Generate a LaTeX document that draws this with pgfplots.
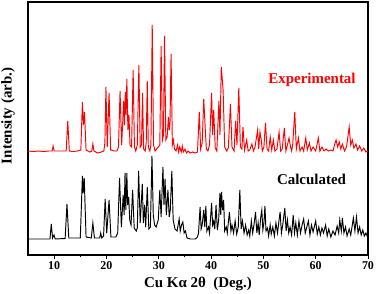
\documentclass[border=0pt]{standalone}
\usepackage{fontspec}
\setmainfont{Liberation Serif}
\usepackage{pgfplots}
\pgfplotsset{compat=1.18}
\begin{document}
\begin{tikzpicture}
\begin{axis}[
  scale only axis, width=340bp, height=253bp,
  xmin=5, xmax=70, ymin=0, ymax=253,
  axis line style={line width=1.1bp},
  xtick={10,20,...,70}, minor xtick={15,25,...,65},
  ytick=\empty,
  tick align=outside, xtick pos=bottom,
  major tick length=3.5bp, minor tick length=2bp,
  tick style={line width=0.9bp, black},
  ticklabel style={font=\fontsize{12}{12}\selectfont\bfseries},
  xticklabel style={yshift=-2bp, inner ysep=1bp},
  /pgf/number format/assume math mode=true,
  xlabel={Cu Kα 2θ\ \ (Deg.)},
  ylabel={Intensity (arb.)},
  label style={font=\fontsize{15}{15}\selectfont\bfseries},
  xlabel style={at={(axis description cs:0.5,-0.113)}, anchor=center, inner ysep=1bp},
  ylabel style={at={(axis description cs:-0.059,0.55)}, anchor=center},
  clip=false,
]
\addplot[red, line width=0.95bp, no markers] coordinates {
(5.0,104) (6,103.5) (7,104) (8,103.5) (9,104) (9.6,104) (9.8,109) (10.0,104) (11,104) (12.3,104) (12.6,134) (12.9,104) (13.5,103.5) (14.5,104) (15.1,105) (15.4,153) (15.6,130) (15.8,143) (16.1,105) (16.8,103) (17.2,104) (17.4,111) (17.6,104) (18.3,102) (19,103) (19.5,104) (19.7,112) (19.9,168) (20.15,108) (20.5,162) (20.8,105) (21.5,104) (22.0,104) (22.3,108) (22.6,164) (22.9,110) (23.3,154) (23.45,130) (23.6,163) (23.75,140) (23.9,176) (24.1,125) (24.3,140) (24.5,110) (24.8,108) (25.1,185) (25.35,108) (25.6,104) (25.9,110) (26.2,190) (26.45,108) (26.7,110) (26.9,162) (27.1,106) (27.4,104) (27.6,112) (27.8,174) (28.0,108) (28.3,104) (28.5,110) (28.75,230) (29.0,110) (29.3,104) (29.6,106) (29.9,108) (30.2,110) (30.45,209) (30.7,115) (30.9,120) (31.1,219) (31.35,115) (31.6,118) (31.85,138) (32.0,125) (32.15,132) (32.35,201) (32.6,110) (32.8,115) (33.0,106) (33.3,104) (33.6,110) (33.8,103) (34.0,108) (34.3,103) (34.5,109) (34.7,103) (35.0,106) (35.3,102) (35.6,104) (36,102) (36.5,103) (37,102) (37.4,103) (37.75,143) (38.0,106) (38.3,112) (38.6,156) (38.9,125) (39.1,106) (39.4,104) (39.7,110) (40.1,162) (40.3,120) (40.5,145) (40.8,107) (41.1,104) (41.5,154) (41.7,120) (41.95,188) (42.3,165) (42.6,108) (43.0,104) (43.3,107) (43.7,151) (44.0,108) (44.4,104) (44.7,134) (44.95,110) (45.3,167) (45.6,108) (45.9,106) (46.1,128) (46.4,105) (46.8,115) (47.1,104) (47.4,105) (47.8,111) (48.1,104) (48.4,108) (48.9,125) (49.1,106) (49.35,123) (49.6,115) (49.8,104) (50.1,108) (50.4,132) (50.7,106) (51.0,104) (51.3,118) (51.6,105) (51.9,115) (52.2,104) (52.6,106) (53.0,123) (53.3,104) (53.6,106) (54.0,127) (54.3,104) (54.6,110) (54.9,117) (55.2,108) (55.4,104) (55.6,110) (56.0,143) (56.3,106) (56.7,117) (57.0,104) (57.4,108) (57.7,104) (58.1,117) (58.4,105) (58.8,112) (59.1,104) (59.5,108) (60.0,104) (60.5,117) (60.8,104) (61.2,108) (61.6,104) (62.0,106) (62.4,104) (62.9,105) (63.3,104) (63.6,110) (63.9,115) (64.2,108) (64.5,113) (64.8,106) (65.1,111) (65.5,104) (65.9,108) (66.4,128) (66.7,110) (67.0,115) (67.3,107) (67.7,111) (68.0,105) (68.4,109) (68.8,104) (69.2,107) (69.6,103) (70,104)
};
\addplot[black, line width=0.95bp, no markers] coordinates {
(5,16) (9.2,16) (9.45,31) (9.7,17) (9.97,20) (10.2,16) (12.1,16.5) (12.45,51) (12.8,17) (15.0,17) (15.4,79) (15.55,62) (15.75,77) (16.1,18) (17.1,17) (17.4,32) (17.7,17) (18.7,17) (18.9,22) (19.1,17) (19.45,19) (19.75,56) (20.05,22) (20.5,55) (20.85,18) (21.8,18) (22.15,22) (22.5,77) (22.85,28) (23.2,60) (23.38,40) (23.55,82) (23.7,45) (23.9,82) (24.05,50) (24.25,58) (24.45,35) (24.7,30) (25.0,65) (25.3,27) (25.7,24) (25.9,27) (26.15,84) (26.45,32) (26.85,71) (27.05,32) (27.3,50) (27.5,28) (27.8,68) (28.1,26) (28.4,28) (28.7,99) (28.95,40) (29.2,30) (29.5,28) (29.9,35) (30.2,65) (30.45,38) (30.8,88) (31.0,50) (31.2,76) (31.45,40) (31.75,65) (32.0,38) (32.2,45) (32.5,84) (32.75,35) (33.1,26) (33.5,24) (33.9,36) (34.1,24) (34.35,30) (34.6,33) (34.85,22) (35.1,24) (35.4,17) (36,16) (37.0,16) (37.4,18) (37.6,22) (37.9,48) (38.1,26) (38.3,30) (38.6,45) (38.8,28) (39.0,49) (39.2,24) (39.5,28) (39.7,22) (40.1,52) (40.3,30) (40.5,34) (40.7,26) (40.95,50) (41.2,25) (41.45,35) (41.7,62) (41.85,40) (42.0,63) (42.2,45) (42.4,55) (42.6,24) (42.9,28) (43.1,22) (43.5,43) (43.8,24) (44.0,30) (44.3,22) (44.6,34) (44.9,21) (45.2,28) (45.5,65) (45.75,26) (46.0,34) (46.3,22) (46.6,30) (46.9,20) (47.2,25) (47.4,19) (47.7,34) (47.95,22) (48.2,30) (48.5,43) (48.75,22) (49.0,32) (49.2,20) (49.5,38) (49.7,45) (49.9,25) (50.1,32) (50.3,49) (50.5,24) (50.8,27) (51.0,19) (51.3,30) (51.5,21) (51.8,28) (52.1,19) (52.4,32) (52.7,22) (53.0,35) (53.2,43) (53.45,22) (53.7,30) (54.1,47) (54.35,24) (54.6,35) (54.85,22) (55.1,28) (55.4,20) (55.7,40) (55.95,22) (56.2,32) (56.5,20) (56.8,34) (57.1,22) (57.4,30) (57.7,36) (58.0,22) (58.3,28) (58.6,34) (58.9,20) (59.2,30) (59.5,23) (60.0,34) (60.3,21) (60.6,28) (60.9,20) (61.2,27) (61.5,22) (61.9,30) (62.2,19) (62.5,26) (62.9,18) (63.3,24) (63.7,20) (64.1,29) (64.4,22) (64.6,35) (64.9,24) (65.1,37) (65.4,22) (65.7,28) (66.0,19) (66.4,26) (66.7,20) (67.0,30) (67.2,37) (67.5,24) (67.8,38) (68.1,22) (68.4,28) (68.7,20) (69.0,25) (69.3,19) (69.6,22) (70,17)
};
\node[red, font=\fontsize{15}{15}\selectfont\bfseries] at (axis cs:59.3,175) {Experimental};
\node[black, font=\fontsize{15}{15}\selectfont\bfseries] at (axis cs:59.2,76) {Calculated};
\end{axis}
\pgfresetboundingbox
\path[use as bounding box] (-28bp,-39bp) rectangle (348bp,255bp);
\end{tikzpicture}
\end{document}
